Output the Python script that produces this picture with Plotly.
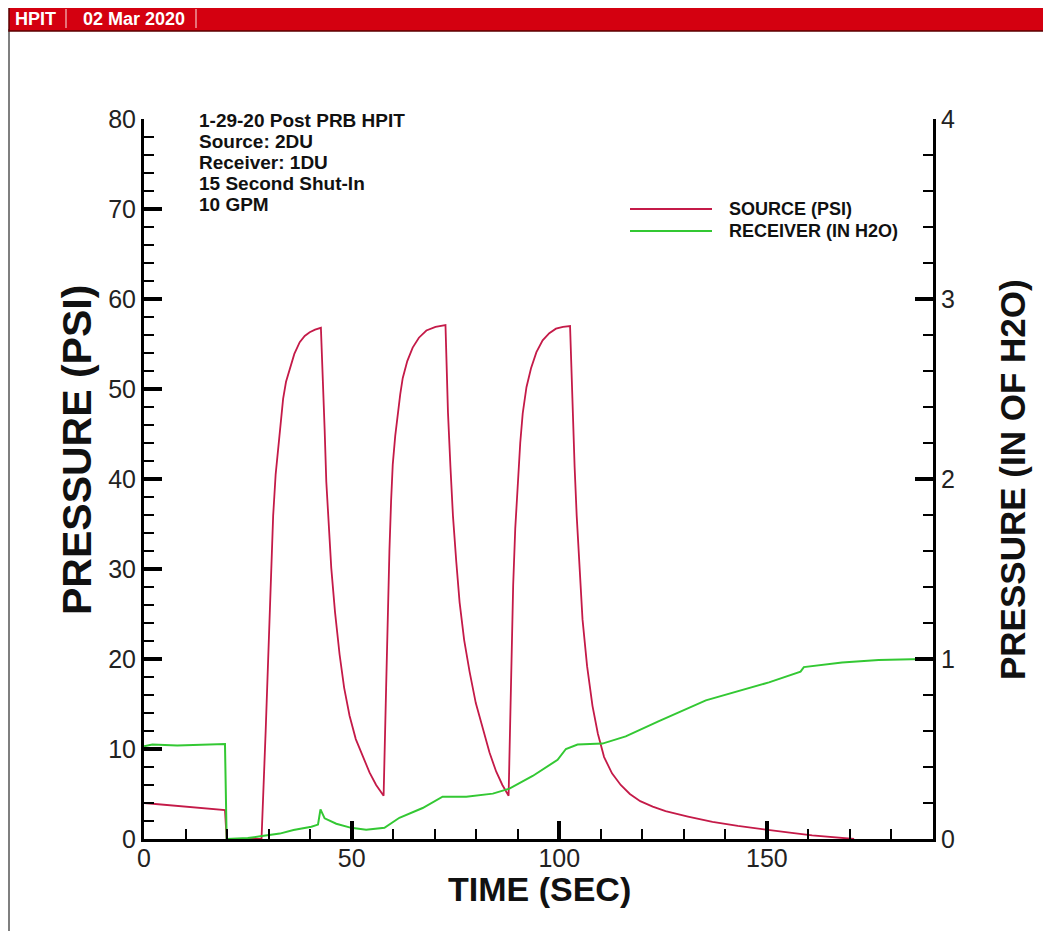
import plotly.graph_objects as go

# ---- data ----
source_time = [0, 19.5, 19.9, 28.3, 29.3, 30.3, 31.1, 31.7, 32.3, 32.9, 33.5, 34.2, 35.1, 36.2, 37.5, 38.7, 39.9, 41.2, 42.6,
               43.1, 43.5, 43.9, 44.4, 45.1, 46.0, 47.1, 48.2, 49.5, 51.0, 52.7, 54.3, 55.9, 57.7,
               58.3, 58.7, 59.1, 59.5, 59.9, 60.5, 61.1, 61.7, 62.3, 63.4, 64.7, 66.2, 68.0, 70.2, 72.6,
               73.2, 73.8, 74.4, 75.2, 76.0, 77.1, 78.4, 79.9, 81.6, 83.2, 84.8, 86.3, 87.8,
               88.4, 88.9, 89.4, 90.0, 90.6, 91.2, 92.1, 93.2, 94.5, 96.0, 97.6, 99.2, 100.9, 102.6,
               103.2, 103.7, 104.2, 104.9, 105.6, 106.7, 108.0, 109.3, 110.8, 112.7, 114.8, 117.0, 119.5,
               122.5, 125.6, 131.0, 136.9, 143.0, 150.1, 155.5, 160.9, 165.0, 168.9, 171.0]
source_psi = [4.0, 3.2, 0.0, 0.0, 12.0, 24.4, 35.9, 40.5, 43.5, 46.5, 48.9, 50.8, 52.3, 53.9, 55.2, 55.9, 56.3, 56.6, 56.8,
              51.2, 45.5, 39.7, 35.0, 30.1, 25.2, 20.5, 16.8, 13.7, 11.1, 9.1, 7.4, 6.0, 4.8,
              16.7, 25.0, 32.0, 37.5, 41.6, 44.8, 47.3, 49.4, 51.2, 53.1, 54.6, 55.7, 56.5, 56.9, 57.1,
              47.4, 41.3, 35.9, 30.8, 26.3, 22.1, 18.6, 15.1, 12.1, 9.6, 7.5, 6.0, 4.8,
              16.7, 28.2, 34.5, 39.7, 44.0, 47.3, 50.2, 52.3, 54.1, 55.4, 56.2, 56.7, 56.9, 57.0,
              47.3, 41.3, 35.9, 30.0, 24.4, 19.2, 14.8, 11.7, 9.1, 7.3, 6.0, 5.0, 4.2,
              3.6, 3.1, 2.5, 1.9, 1.45, 1.0, 0.7, 0.4, 0.22, 0.1, 0.0]

receiver_time = [0, 2, 8, 14, 19.5, 19.9, 25, 28, 32.7, 36, 40.3, 41.9, 42.5, 43.5, 46.3,
                 49.9, 53.5, 57.9, 61.5, 67.1, 71.9, 77.6, 84.0, 88.0, 93.6, 99.6, 101.6,
                 104.4, 110.4, 116, 124, 135.3, 150.5, 158.1, 158.9, 168.1, 176.9, 184.9, 190]
receiver_inh2o = [0.515, 0.525, 0.52, 0.525, 0.528, 0.0, 0.005, 0.015, 0.03, 0.05, 0.068, 0.08,
                  0.165, 0.115, 0.085, 0.062, 0.052, 0.062, 0.118, 0.172, 0.235, 0.235, 0.252,
                  0.28, 0.35, 0.44, 0.50, 0.525, 0.53, 0.57, 0.655, 0.77, 0.87, 0.93, 0.955,
                  0.98, 0.995, 0.998, 1.0]

series_names = ["SOURCE (PSI)", "RECEIVER (IN H2O)"]
x_ticks = [0, 50, 100, 150]
y_left_ticks = [0, 10, 20, 30, 40, 50, 60, 70, 80]
y_right_ticks = [0, 1, 2, 3, 4]

notes = ["1-29-20 Post PRB HPIT", "Source: 2DU", "Receiver: 1DU", "15 Second Shut-In", "10 GPM"]

RED = "#C41A48"
GREEN = "#33C833"

# ---- layout helpers (page pixel -> paper); page body has an 8px margin ----
OFF = 8
W, H = 1051 - 2 * OFF, 939 - 2 * OFF
PX0, PX1 = 144, 933        # plot area, page px
PY0, PY1 = 119, 839
L, T = PX0 - OFF, PY0 - OFF
PW, PH = PX1 - PX0, PY1 - PY0
R, B = W - L - PW, H - T - PH


def px(x):
    return (x - PX0) / PW


def py(y):
    return (PY1 - y) / PH


FONT = "Liberation Sans, Arial, sans-serif"

fig = go.Figure()
fig.add_trace(go.Scatter(x=source_time, y=source_psi, mode="lines", name=series_names[0],
                         line=dict(color=RED, width=1.8), yaxis="y", showlegend=False))
fig.add_trace(go.Scatter(x=receiver_time, y=receiver_inh2o, mode="lines", name=series_names[1],
                         line=dict(color=GREEN, width=2), yaxis="y2", showlegend=False))

axis_common = dict(
    ticks="inside", ticklen=18, tickwidth=4, tickcolor="black",
    showline=True, linewidth=3, linecolor="black",
    showgrid=False, zeroline=False,
    tickfont=dict(family=FONT, size=25, color="#222"),
)
minor_common = dict(ticks="inside", ticklen=10, tickwidth=2, tickcolor="black", tick0=0)

fig.update_layout(
    width=W, height=H,
    margin=dict(l=L, r=R, t=T, b=B),
    paper_bgcolor="white", plot_bgcolor="white",
    xaxis=dict(range=[0, 190], tickvals=x_ticks, ticklabelstandoff=-5, **axis_common,
               minor=dict(dtick=10, **minor_common)),
    yaxis=dict(range=[0, 80], tickvals=y_left_ticks, **axis_common, minor=dict(dtick=2, **minor_common)),
    yaxis2=dict(range=[0, 4], tickvals=y_right_ticks, overlaying="y", side="right", **axis_common,
                minor=dict(dtick=0.2, **minor_common)),
    showlegend=False,
)

# axis titles
fig.add_annotation(x=px(539), y=py(889), xref="paper", yref="paper", text="<b>TIME (SEC)</b>",
                   showarrow=False, xanchor="center", yanchor="middle",
                   font=dict(family=FONT, size=34, color="#111"))
fig.add_annotation(x=px(77), y=py(450), xref="paper", yref="paper", text="<b>PRESSURE (PSI)</b>",
                   showarrow=False, xanchor="center", yanchor="middle", textangle=-90,
                   font=dict(family=FONT, size=41, color="#111"))
fig.add_annotation(x=px(1012), y=py(480), xref="paper", yref="paper", text="<b>PRESSURE (IN OF H2O)</b>",
                   showarrow=False, xanchor="center", yanchor="middle", textangle=-90,
                   font=dict(family=FONT, size=35, color="#111"))

# notes text block
for i, line in enumerate(notes):
    fig.add_annotation(x=px(197), y=py(120 + 21.2 * i), xref="paper", yref="paper",
                       text="<b>" + line + "</b>", showarrow=False, xanchor="left", yanchor="middle",
                       font=dict(family=FONT, size=19, color="#111"))

# legend (drawn manually)
for i, (name, col) in enumerate(zip(series_names, [RED, GREEN])):
    yy = 209 + 22 * i
    fig.add_shape(type="line", xref="paper", yref="paper", x0=px(630), x1=px(712), y0=py(yy), y1=py(yy),
                  line=dict(color=col, width=2))
    fig.add_annotation(x=px(727), y=py(yy), xref="paper", yref="paper", text="<b>" + name + "</b>",
                       showarrow=False, xanchor="left", yanchor="middle",
                       font=dict(family=FONT, size=18, color="#111"))

# page frame and header bar
fig.add_shape(type="rect", xref="paper", yref="paper", x0=px(9), x1=px(1070), y0=py(30), y1=py(933),
              line=dict(color="#555", width=1.5), fillcolor="rgba(0,0,0,0)", layer="below")
fig.add_shape(type="rect", xref="paper", yref="paper", x0=px(9), x1=px(1070), y0=py(31), y1=py(6),
              line=dict(color="#5a0000", width=1.5), fillcolor="#D40010", layer="above")
for sx in (66, 196):
    fig.add_shape(type="line", xref="paper", yref="paper", x0=px(sx), x1=px(sx), y0=py(9), y1=py(28),
                  line=dict(color="#f3c0c0", width=1.2))
fig.add_annotation(x=px(13), y=py(19), xref="paper", yref="paper", text="<b>HPIT</b>", showarrow=False,
                   xanchor="left", yanchor="middle", font=dict(family=FONT, size=18, color="white"))
fig.add_annotation(x=px(81), y=py(19), xref="paper", yref="paper", text="<b>02 Mar 2020</b>", showarrow=False,
                   xanchor="left", yanchor="middle", font=dict(family=FONT, size=18, color="white"))

fig.write_html("out.html")
